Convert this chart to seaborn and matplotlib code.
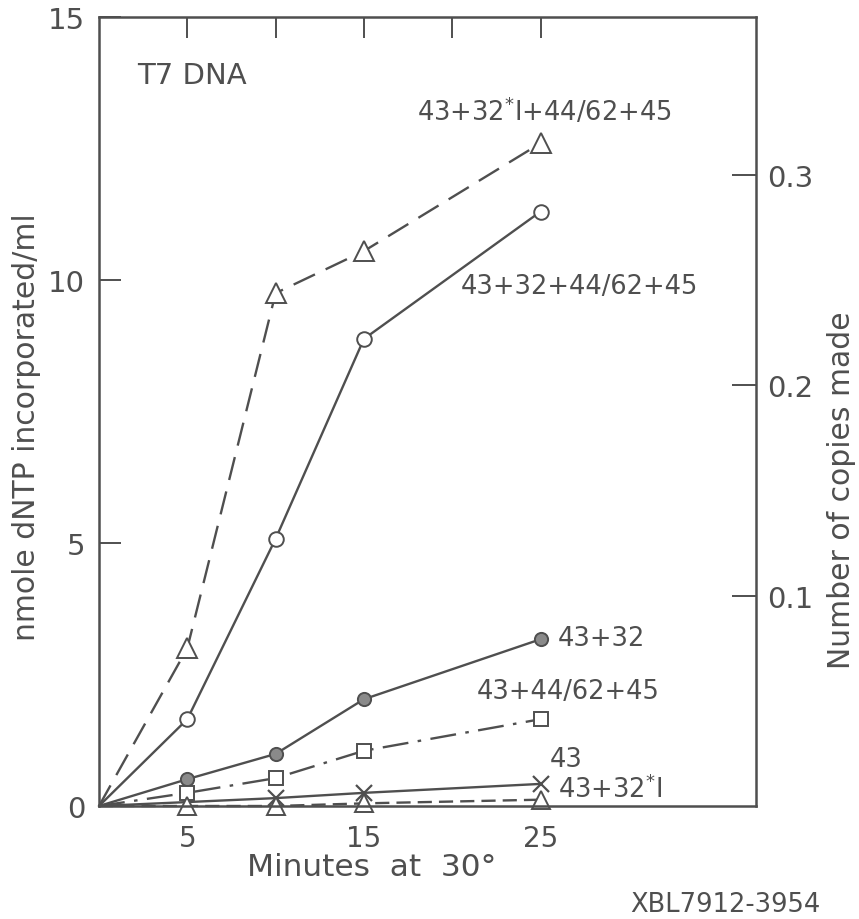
import matplotlib
matplotlib.use("Agg")
import matplotlib.pyplot as plt
import seaborn as sns
import pandas as pd

# Time course of T7 DNA synthesis (nmole dNTP incorporated per ml)
minutes_a = [0, 5, 10, 15, 25]
mix_32star_full = [0.0, 3.0, 9.75, 10.55, 12.6]     # 43+32*I+44/62+45
mix_full = [0.0, 1.65, 5.08, 8.88, 11.3]            # 43+32+44/62+45
mix_43_32 = [0.0, 0.51, 0.99, 2.03, 3.17]           # 43+32
mix_43_acc = [0.0, 0.25, 0.53, 1.05, 1.65]          # 43+44/62+45
minutes_b = [0, 10, 15, 25]
pol_43 = [0.0, 0.15, 0.25, 0.42]                    # 43
mix_43_32star = [0.0, 0.0, 0.0, 0.05, 0.12]         # 43+32*I

left_ticks = [0, 5, 10, 15]
right_ticks = [0.1, 0.2, 0.3]
nmole_per_copy = 40.0
bottom_labels = [5, 15, 25]
top_ticks = [5, 10, 15, 20, 25]

INK = "#4f4f4f"

sns.set_theme(style="white")
plt.rcParams["font.family"] = ["DejaVu Sans"]
plt.rcParams["mathtext.fontset"] = "dejavusans"

fig = plt.figure(figsize=(8.59, 9.2), dpi=100)
W, H = 859, 920
ax = fig.add_axes([99 / W, 1 - 807 / H, (756 - 99) / W, (807 - 18) / H])

series = [
    (minutes_a, mix_32star_full, dict(marker="^", ms=14, mfc="white", linestyle=(0, (10, 5)))),
    (minutes_a, mix_full, dict(marker="o", ms=10.5, mfc="white", linestyle="-")),
    (minutes_a, mix_43_32, dict(marker="o", ms=9.5, mfc="#8a8a8a", linestyle="-")),
    (minutes_a, mix_43_acc, dict(marker="s", ms=9.5, mfc="white", linestyle=(0, (11, 4, 1.5, 4)))),
    (minutes_b, pol_43, dict(marker="x", ms=11, mew=1.6, linestyle="-")),
    (minutes_a, mix_43_32star, dict(marker="^", ms=13, mfc="white", linestyle=(0, (6, 3)))),
]

for xs, ys, style in series:
    df = pd.DataFrame({"min": xs, "val": ys})
    kws = dict(color=INK, mec=INK, lw=1.7, clip_on=False)
    kws["mew"] = style.pop("mew", 1.4)
    kws.update(style)
    sns.lineplot(data=df, x="min", y="val", ax=ax, errorbar=None,
                 sort=False, **kws)
    # no marker on the shared origin point
    line = ax.lines[-1]
    line.set_markevery(list(range(1, len(xs))))

ax.set_xlim(0, 37.2)
ax.set_ylim(0, 15)
ax.set_xlabel("")
ax.set_ylabel("")

for sp in ax.spines.values():
    sp.set_visible(True)
    sp.set_color(INK)
    sp.set_linewidth(1.8)

ax.set_yticks(left_ticks)
ax.set_yticklabels([str(t) for t in left_ticks])
ax.tick_params(axis="y", direction="in", length=16, width=1.4, color=INK,
               labelsize=21, labelcolor=INK, pad=10, left=True)
ax.set_xticks(bottom_labels)
ax.set_xticklabels([str(t) for t in bottom_labels])
ax.tick_params(axis="x", direction="in", length=0, labelsize=20,
               labelcolor=INK, pad=13, bottom=True)

top = ax.secondary_xaxis("top")
top.set_xticks(top_ticks)
top.set_xticklabels([])
top.tick_params(direction="in", length=15, width=1.4, color=INK)
top.spines["top"].set_visible(False)

right = ax.twinx()
right.set_ylim(0, 15 / nmole_per_copy)
right.set_yticks(right_ticks)
right.set_yticklabels(["0.1", "0.2", "0.3"])
right.tick_params(axis="y", direction="in", length=17, width=1.4, color=INK,
                  labelsize=21, labelcolor=INK, pad=8, right=True)
right.grid(False)
for sp in right.spines.values():
    sp.set_visible(False)

txt = dict(color=INK, va="center", ha="left")
ax.text(2.15, 13.9, "T7 DNA", fontsize=21, **txt)
ax.text(18.0, 13.21, "43+32$^{*}$I+44/62+45", fontsize=18.5, **txt)
ax.text(20.5, 9.89, "43+32+44/62+45", fontsize=18.5, **txt)
ax.text(26.0, 3.19, "43+32", fontsize=18.5, **txt)
ax.text(21.4, 2.19, "43+44/62+45", fontsize=18.5, **txt)
ax.text(25.5, 0.89, "43", fontsize=18.5, **txt)
ax.text(26.0, 0.32, "43+32$^{*}$I", fontsize=18.5, **txt)

fig.text(372 / W, 1 - 868 / H, "Minutes  at  30°", fontsize=22.5, color=INK,
         ha="center", va="center")
fig.text(27 / W, 1 - 427 / H, "nmole dNTP incorporated/ml", fontsize=21.5,
         color=INK, ha="center", va="center", rotation=90)
fig.text(842 / W, 1 - 490 / H, "Number of copies made", fontsize=21.5,
         color=INK, ha="center", va="center", rotation=90)
fig.text(630 / W, 1 - 905 / H, "XBL7912-3954", fontsize=18.5, color=INK,
         ha="left", va="center")

fig.savefig("out.png", dpi=100, facecolor="white")
